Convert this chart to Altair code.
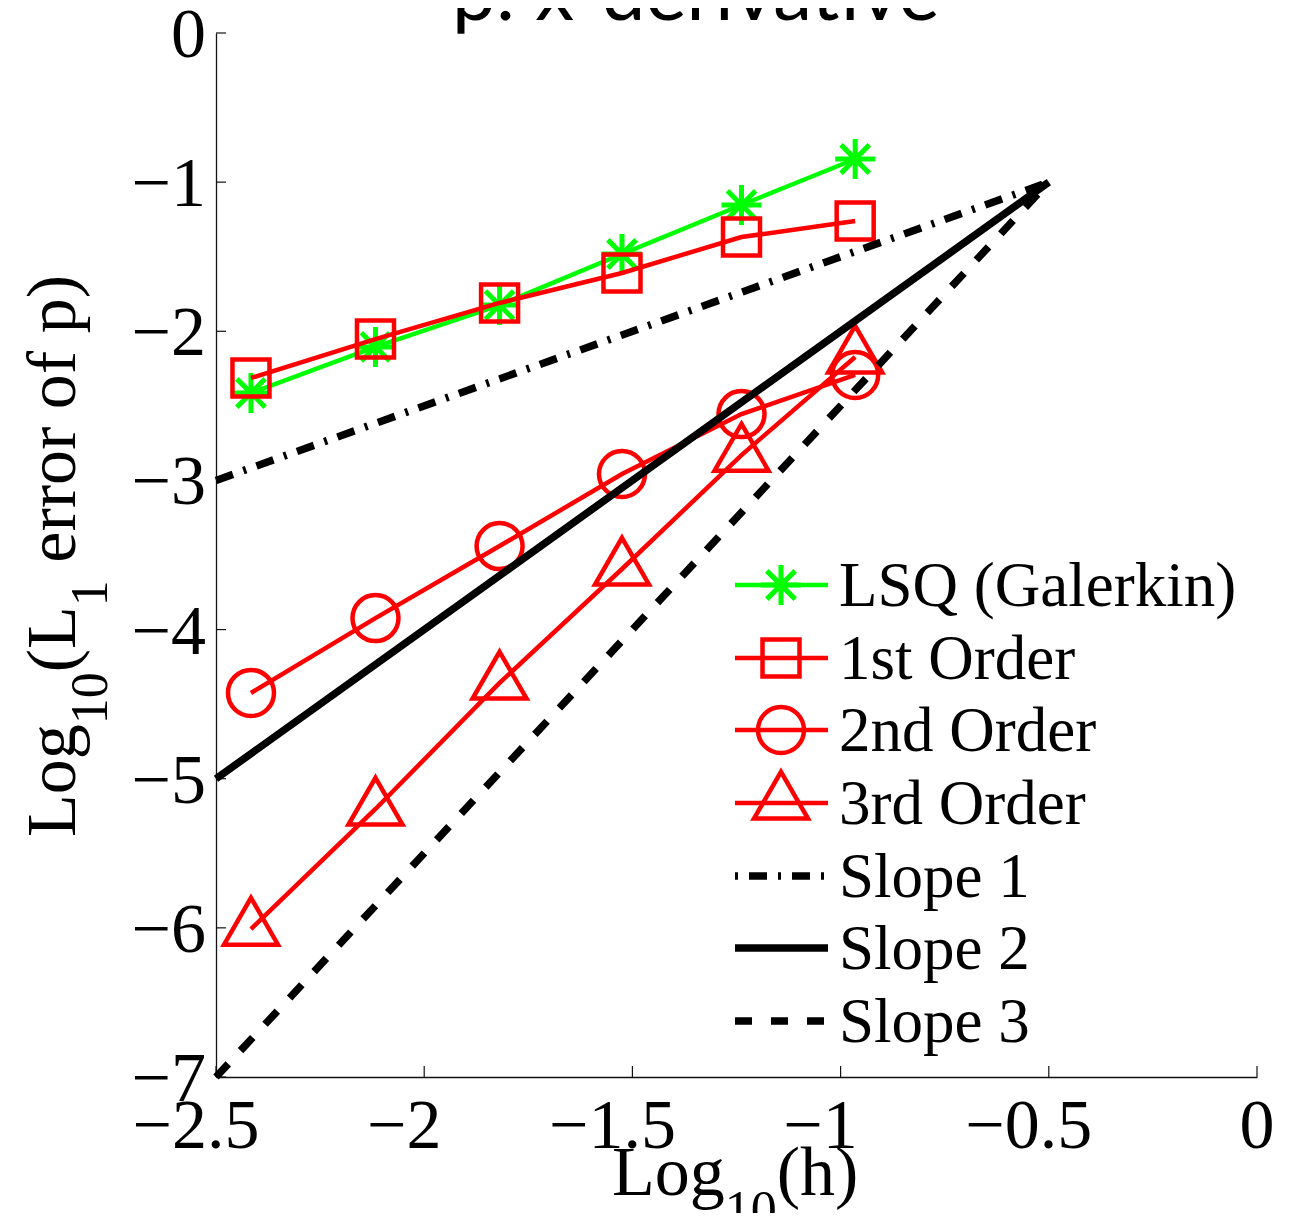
import altair as alt
import pandas as pd

# ---------------- data ----------------
log_h = [-2.416, -2.117, -1.819, -1.525, -1.238, -0.965]
lsq = [-2.414, -2.105, -1.824, -1.482, -1.153, -0.845]
first_order = [-2.313, -2.052, -1.810, -1.609, -1.368, -1.261]
second_order = [-4.425, -3.923, -3.440, -2.957, -2.555, -2.293]
third_order = [-6.008, -5.203, -4.358, -3.594, -2.830, -2.172]

slope_x = [-2.5, -0.5]
slope1 = [-3.0, -1.0]
slope2 = [-5.0, -1.0]
slope3 = [-7.0, -1.0]

x_ticks = [-2.5, -2.0, -1.5, -1.0, -0.5, 0.0]
y_ticks = [0, -1, -2, -3, -4, -5, -6, -7]

legend_labels = ["LSQ (Galerkin)", "1st Order", "2nd Order", "3rd Order",
                 "Slope 1", "Slope 2", "Slope 3"]
title_text = "p: x-derivative"

# ---------------- layout / style ----------------
W, H = 1041, 1044
OX, OY = 216, 33          # page position of the plot origin
SERIF = "Liberation Serif"
FS = 70                   # tick / axis title size
SUB = 52                  # subscript size
SUBSHIFT = 32
LEG_FS = 63

RED, GREEN, BLACK = "#ff0000", "#00ff00", "#000000"
LW = 4.5
SLW = 7.5

STAR = "M0,-1L0,1M-1,0L1,0M-0.707,-0.707L0.707,0.707M-0.707,0.707L0.707,-0.707"
TRI = "M0,-1.155L1,0.577L-1,0.577Z"

XS = alt.Scale(domain=[-2.5, 0], nice=False, zero=False)
YS = alt.Scale(domain=[-7, 0], nice=False, zero=False)
XAX = alt.Axis(labels=False, ticks=False, grid=False, title=None,
               domainColor="#111111", domainWidth=1.3)
YAX = alt.Axis(labels=False, ticks=False, grid=False, title=None,
               domainColor="#111111", domainWidth=1.3)


def X(f):
    return alt.X(f"{f}:Q", scale=XS, axis=XAX)


def Y(f):
    return alt.Y(f"{f}:Q", scale=YS, axis=YAX)


def fmt(v):
    return f"{v:g}".replace("-", "\u2212")


layers = []

# inward ticks
xt = pd.DataFrame({"v": x_ticks})
yt = pd.DataFrame({"v": y_ticks})
layers.append(alt.Chart(xt).mark_rule(color="#111111", strokeWidth=1.2).encode(
    x=X("v"), y=alt.value(H), y2=alt.value(H - 11)))
layers.append(alt.Chart(yt).mark_rule(color="#111111", strokeWidth=1.2).encode(
    y=Y("v"), x=alt.value(0), x2=alt.value(10)))

# series
series = [
    (lsq, GREEN, STAR, 1600),
    (first_order, RED, "square", 1369),
    (second_order, RED, "circle", 2116),
    (third_order, RED, TRI, 2916),
]
for ys, col, shape, size in series:
    df = pd.DataFrame({"x": log_h, "y": ys})
    base = alt.Chart(df)
    layers.append(base.mark_line(color=col, strokeWidth=LW).encode(x=X("x"), y=Y("y")))
    layers.append(base.mark_point(shape=shape, size=size, filled=False, color=col,
                                  strokeWidth=LW + (0.5 if shape == STAR else 0),
                                  opacity=1).encode(x=X("x"), y=Y("y")))

# slope reference lines
slopes = [
    (slope1, [18, 11, 3, 11]),
    (slope2, None),
    (slope3, [18, 18]),
]
for ys, dash in slopes:
    df = pd.DataFrame({"x": slope_x, "y": ys})
    kw = dict(color=BLACK, strokeWidth=SLW, strokeCap="butt")
    if dash:
        kw["strokeDash"] = dash
    layers.append(alt.Chart(df).mark_line(**kw).encode(x=X("x"), y=Y("y")))

# tick labels
xl = pd.DataFrame({"v": x_ticks, "lab": [fmt(v) for v in x_ticks]})
layers.append(alt.Chart(xl).transform_filter("datum.v < 0").mark_text(
    font=SERIF, fontSize=FS, align="center", baseline="alphabetic", dx=-20, color=BLACK
).encode(x=X("v"), y=alt.value(1148 - OY), text="lab:N"))
layers.append(alt.Chart(xl).transform_filter("datum.v >= 0").mark_text(
    font=SERIF, fontSize=FS, align="center", baseline="alphabetic", color=BLACK
).encode(x=X("v"), y=alt.value(1148 - OY), text="lab:N"))
yl = pd.DataFrame({"v": y_ticks, "lab": [fmt(v) for v in y_ticks]})
layers.append(alt.Chart(yl).mark_text(
    font=SERIF, fontSize=FS, align="right", baseline="alphabetic", dy=24, color=BLACK
).encode(y=Y("v"), x=alt.value(-10), text="lab:N"))

# legend
row_y = [585, 658, 730, 803, 876, 948, 1021]
leg_styles = [
    dict(color=GREEN, strokeWidth=LW),
    dict(color=RED, strokeWidth=LW),
    dict(color=RED, strokeWidth=LW),
    dict(color=RED, strokeWidth=LW),
    dict(color=BLACK, strokeWidth=SLW, strokeDash=[3, 11, 18, 11], strokeCap="butt"),
    dict(color=BLACK, strokeWidth=SLW, strokeCap="butt"),
    dict(color=BLACK, strokeWidth=SLW, strokeDash=[17, 19], strokeCap="butt"),
]
for i, lab in enumerate(legend_labels):
    cy = row_y[i] - OY
    d = alt.Chart(pd.DataFrame({"label": [lab]}))
    layers.append(d.mark_rule(**leg_styles[i]).encode(
        x=alt.value(735 - OX), x2=alt.value(828 - OX), y=alt.value(cy)))
    if i < 4:
        _, col, shape, size = series[i]
        layers.append(d.mark_point(shape=shape, size=size, filled=False, color=col,
                                   strokeWidth=LW + (0.5 if shape == STAR else 0),
                                   opacity=1).encode(
            x=alt.value(781 - OX), y=alt.value(cy)))
    layers.append(d.mark_text(font=SERIF, fontSize=LEG_FS, align="left",
                              baseline="alphabetic", color=BLACK).encode(
        x=alt.value(839 - OX), y=alt.value(cy + 21), text="label:N"))

# axis titles with subscripts (Times advance widths)
TW = {"L": .611, "o": .5, "g": .5, "1": .5, "0": .5, "(": .333, ")": .333,
      " ": .25, "e": .444, "r": .333, "f": .333, "p": .5, "h": .5}


def adv(s, fs):
    return sum(TW[c] for c in s) * fs


def title_pieces(pieces):
    out = []
    pos = 0.0
    for txt, fs, shift in pieces:
        lead = len(txt) - len(txt.lstrip(" "))
        pos += adv(" " * lead, fs)
        body = txt.lstrip(" ")
        out.append((body, fs, shift, pos))
        pos += adv(body, fs)
    return out


xt_pieces = title_pieces([("Log", FS, 0), ("10", SUB, SUBSHIFT), ("(h)", FS, 0)])
for body, fs, shift, pos in xt_pieces:
    layers.append(alt.Chart(pd.DataFrame({"t": [body]})).mark_text(
        font=SERIF, fontSize=fs, align="left", baseline="alphabetic", color=BLACK
    ).encode(x=alt.value(612 - OX + pos), y=alt.value(1195 - OY + shift), text="t:N"))

yt_pieces = title_pieces([("Log", FS, 0), ("10", SUB, SUBSHIFT), ("(L", FS, 0),
                          ("1", SUB, SUBSHIFT), (" error of p)", FS, 0)])
for body, fs, shift, pos in yt_pieces:
    layers.append(alt.Chart(pd.DataFrame({"t": [body]})).mark_text(
        font=SERIF, fontSize=fs, align="left", baseline="alphabetic", angle=270, color=BLACK
    ).encode(x=alt.value(75 - OX + shift), y=alt.value(837 - OY - pos), text="t:N"))

# title (cropped at the top in the reference)
layers.append(alt.Chart(pd.DataFrame({"t": [title_text]})).mark_text(
    font="Lato", fontSize=78, align="left", baseline="alphabetic", color=BLACK
).encode(x=alt.value(452 - OX), y=alt.value(20 - OY), text="t:N"))

chart = alt.layer(*layers).properties(
    width=W, height=H,
    autosize=alt.AutoSizeParams(type="none"),
    padding={"left": OX - 8, "top": OY - 8, "right": 36, "bottom": 136},
    background="white",
).configure_view(stroke=None)

chart.save("out.html", embed_options={"renderer": "svg", "actions": False})
